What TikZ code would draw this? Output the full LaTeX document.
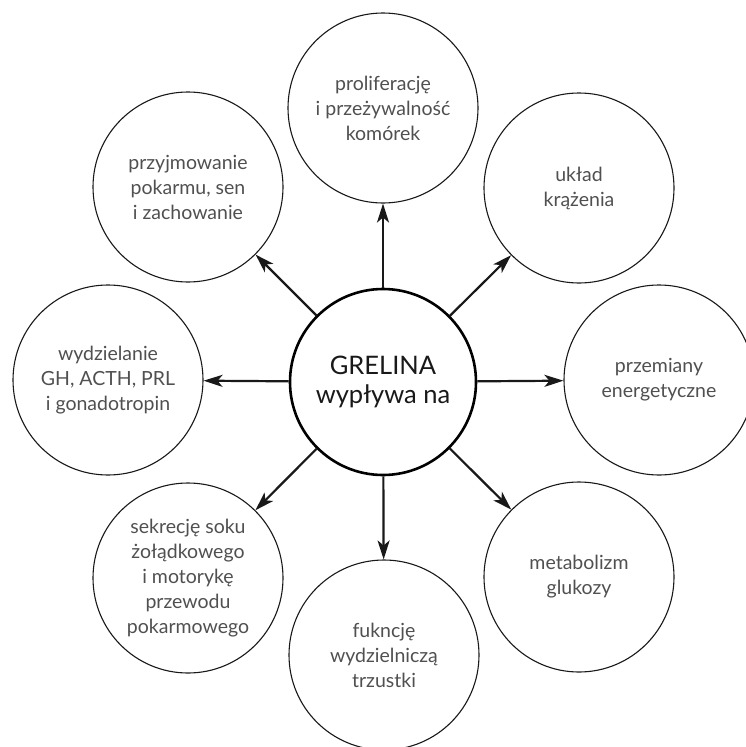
\documentclass[tikz,border=0pt]{standalone}
\usepackage{fontspec}
\setmainfont{Lato}
\usetikzlibrary{arrows.meta}
\definecolor{txtgray}{HTML}{505050}
\tikzset{
  hub/.style={circle, draw=black, line width=2.6pt, minimum size=186pt, inner sep=0pt,
    align=center, font=\fontsize{25.5}{29}\selectfont, text=black!90},
  leaf/.style={circle, draw=black!90, line width=1.1pt, minimum size=190pt, inner sep=0pt,
    align=center, font=\fontsize{19.5}{25}\selectfont, text=txtgray},
  link/.style={draw=black!90, line width=2.2pt,
    -{Stealth[length=19pt, width=12pt, inset=5pt]}}
}
\begin{document}
\begin{tikzpicture}[x=1pt, y=-1pt]
  \useasboundingbox (0,0) rectangle (746,747);
  % central hub
  \node[hub] (c) at (383,382) {GRELINA\\wypływa na};
  % surrounding topics
  \node[leaf] (n)  at (383,108) {proliferację\\i przeżywalność\\komórek};
  \node[leaf] (ne) at (579,188) {układ\\krążenia};
  \node[leaf] (e)  at (659,380) {przemiany\\energetyczne};
  \node[leaf] (se) at (579,577) {metabolizm\\glukozy};
  \node[leaf] (s)  at (384,655) {fukncję\\wydzielniczą\\trzustki};
  \node[leaf] (sw) at (188,578) {sekrecję soku\\żołądkowego\\i motorykę\\przewodu\\pokarmowego};
  \node[leaf] (w)  at (108,380) {wydzielanie\\GH, ACTH, PRL\\i gonadotropin};
  \node[leaf] (nw) at (188,187) {przyjmowanie\\pokarmu, sen\\i zachowanie};
  % connectors from the hub
  \foreach \t in {n,ne,e,se,s,sw,w,nw}
    \draw[link] (c) -- (\t);
\end{tikzpicture}
\end{document}
